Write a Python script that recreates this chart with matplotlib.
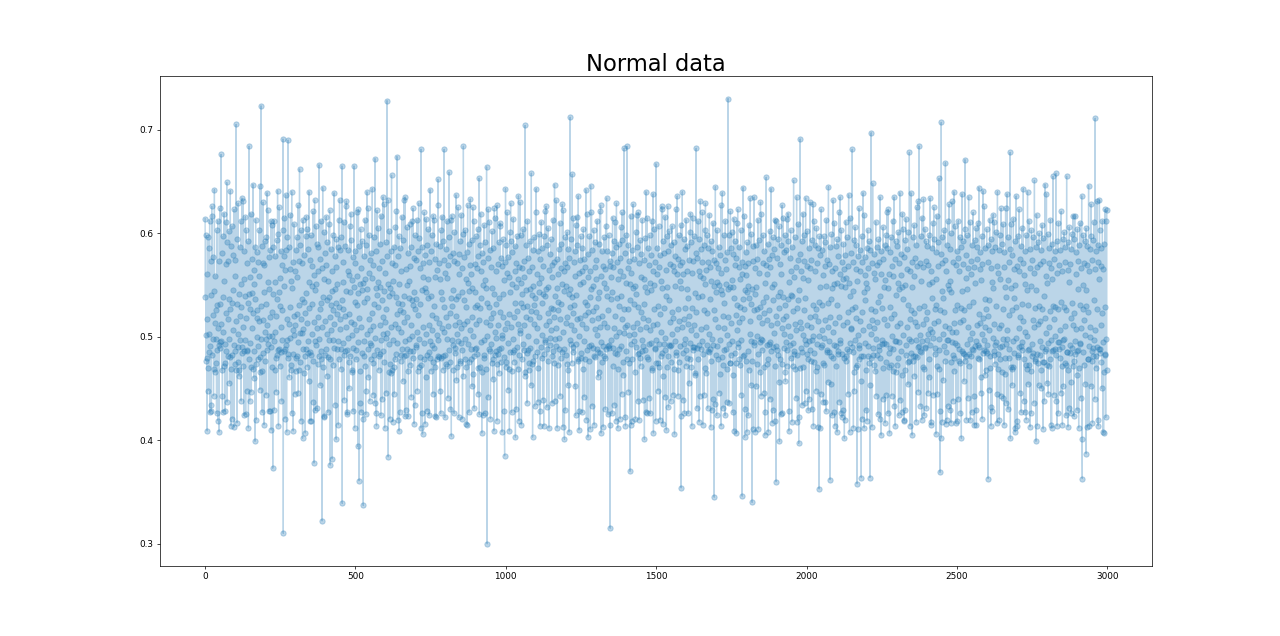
import numpy as np
import matplotlib
matplotlib.use("Agg")
import matplotlib.pyplot as plt

# Series values in thousandths, read/ (index 0..2999)
signal_milli = [
614, 538, 598, 477, 502, 561, 479, 409, 517, 596, 470, 448, 503, 586, 485, 612, 427, 491, 573, 428, 540, 434, 626, 482, 617,
521, 498, 577, 443, 544, 469, 642, 513, 466, 559, 498, 475, 526, 426, 603, 487, 531, 612, 419, 508, 492, 408, 573, 495, 624,
532, 489, 496, 676, 512, 468, 581, 443, 427, 597, 505, 538, 472, 619, 554, 493, 428, 475, 570, 611, 486, 523, 649, 437, 591,
517, 573, 481, 536, 602, 498, 455, 480, 527, 641, 469, 414, 588, 482, 533, 607, 421, 545, 506, 579, 492, 623, 413, 474, 559,
486, 574, 515, 705, 468, 532, 417, 594, 490, 503, 629, 476, 541, 462, 468, 520, 587, 497, 551, 612, 438, 529, 634, 484, 490,
509, 631, 472, 556, 424, 486, 583, 539, 497, 616, 425, 518, 603, 487, 448, 571, 486, 533, 592, 412, 478, 684, 541, 438, 527,
558, 494, 619, 471, 447, 575, 508, 542, 469, 647, 523, 486, 564, 460, 551, 587, 399, 536, 613, 474, 420, 518, 582, 500, 526,
572, 491, 478, 559, 515, 603, 480, 449, 646, 466, 530, 723, 498, 588, 467, 427, 571, 516, 630, 484, 543, 415, 569, 505, 592,
477, 532, 498, 444, 596, 511, 639, 487, 622, 553, 493, 428, 577, 501, 546, 428, 584, 519, 490, 612, 410, 471, 608, 524, 501,
373, 541, 587, 496, 429, 612, 468, 553, 505, 578, 479, 447, 520, 593, 482, 536, 641, 487, 599, 414, 543, 488, 625, 530, 472,
557, 509, 583, 485, 438, 569, 497, 526, 603, 691, 310, 549, 578, 486, 615, 421, 488, 564, 637, 492, 584, 408, 497, 517, 596,
479, 690, 483, 512, 587, 461, 529, 565, 499, 618, 468, 473, 554, 640, 426, 547, 506, 572, 409, 483, 609, 520, 502, 445, 563,
511, 584, 467, 479, 596, 522, 481, 558, 627, 495, 446, 573, 468, 531, 662, 504, 589, 476, 419, 517, 603, 504, 536, 571, 402,
488, 613, 507, 534, 465, 579, 523, 481, 407, 597, 488, 542, 616, 513, 604, 471, 484, 585, 496, 528, 640, 457, 553, 419, 574,
485, 482, 598, 419, 532, 568, 503, 549, 621, 477, 437, 560, 378, 514, 632, 496, 545, 429, 607, 492, 551, 590, 508, 431, 474,
563, 519, 587, 481, 666, 498, 527, 575, 453, 478, 612, 486, 533, 566, 322, 509, 644, 538, 471, 556, 423, 601, 422, 581, 515,
482, 488, 569, 616, 503, 535, 462, 591, 427, 554, 480, 609, 538, 497, 622, 519, 376, 478, 585, 506, 531, 563, 382, 544, 598,
473, 526, 497, 512, 639, 489, 546, 578, 434, 533, 567, 401, 594, 522, 488, 551, 587, 496, 415, 613, 478, 529, 632, 507, 584,
517, 488, 469, 596, 535, 665, 339, 527, 572, 494, 553, 611, 482, 439, 520, 588, 486, 544, 626, 509, 631, 487, 427, 425, 563,
499, 584, 476, 450, 560, 522, 607, 481, 543, 619, 514, 593, 466, 468, 555, 502, 577, 428, 489, 548, 665, 512, 412, 571, 534,
583, 506, 487, 478, 620, 531, 559, 495, 394, 542, 623, 518, 361, 588, 436, 467, 551, 604, 509, 427, 566, 484, 545, 592, 421,
552, 337, 534, 578, 496, 481, 613, 472, 556, 425, 589, 448, 537, 640, 503, 546, 624, 488, 461, 562, 517, 598, 438, 494, 574,
506, 478, 581, 492, 557, 523, 643, 475, 444, 569, 510, 596, 482, 532, 436, 672, 499, 547, 426, 583, 414, 540, 622, 487, 553,
529, 605, 468, 481, 566, 511, 590, 483, 548, 424, 617, 497, 535, 573, 440, 486, 519, 635, 503, 544, 628, 476, 412, 562, 514,
591, 499, 446, 527, 578, 728, 504, 551, 632, 384, 539, 466, 493, 602, 421, 547, 474, 583, 465, 509, 656, 468, 542, 571, 418,
554, 497, 587, 471, 445, 569, 512, 478, 606, 483, 538, 621, 522, 674, 494, 420, 578, 508, 533, 597, 409, 551, 427, 586, 526,
477, 482, 563, 505, 616, 532, 488, 457, 524, 593, 481, 539, 632, 514, 423, 635, 496, 429, 565, 482, 550, 606, 519, 488, 467,
581, 423, 554, 498, 537, 609, 473, 486, 568, 511, 587, 442, 535, 612, 501, 479, 624, 486, 531, 576, 416, 543, 434, 598, 527,
492, 490, 574, 536, 613, 505, 448, 467, 583, 521, 629, 498, 471, 595, 480, 532, 566, 412, 681, 473, 545, 587, 426, 406, 558,
509, 571, 478, 494, 620, 547, 416, 579, 461, 543, 614, 503, 589, 428, 482, 556, 537, 604, 485, 424, 572, 511, 479, 642, 496,
539, 583, 467, 492, 521, 598, 506, 445, 476, 617, 530, 613, 489, 471, 558, 423, 575, 518, 422, 590, 502, 478, 564, 481, 652,
627, 497, 480, 571, 513, 556, 448, 588, 426, 543, 603, 479, 536, 616, 508, 481, 592, 468, 529, 574, 681, 505, 422, 482, 562,
519, 585, 474, 498, 557, 612, 472, 441, 569, 510, 596, 659, 487, 476, 523, 578, 430, 537, 613, 404, 617, 530, 497, 492, 581,
545, 468, 573, 426, 601, 511, 489, 484, 536, 637, 520, 458, 471, 571, 503, 539, 625, 496, 422, 580, 514, 561, 475, 592, 477,
508, 494, 618, 487, 543, 566, 421, 599, 462, 684, 535, 512, 577, 498, 478, 603, 471, 529, 556, 416, 582, 415, 515, 627, 493,
552, 590, 427, 476, 544, 569, 506, 633, 488, 478, 561, 519, 593, 452, 547, 625, 501, 464, 612, 481, 431, 529, 570, 488, 543,
597, 512, 489, 483, 566, 531, 604, 470, 445, 578, 516, 653, 425, 589, 528, 471, 619, 495, 537, 563, 407, 581, 466, 550, 424,
572, 497, 479, 608, 482, 555, 426, 591, 469, 547, 514, 664, 533, 300, 501, 576, 442, 623, 488, 529, 611, 511, 584, 486, 421,
518, 567, 493, 475, 602, 547, 478, 459, 523, 586, 409, 541, 624, 505, 482, 615, 486, 532, 563, 499, 419, 627, 474, 483, 570,
511, 488, 591, 465, 537, 610, 524, 607, 489, 476, 576, 502, 408, 499, 568, 519, 594, 541, 480, 555, 428, 385, 572, 507, 643,
589, 471, 476, 562, 513, 620, 494, 449, 577, 522, 469, 558, 409, 601, 485, 543, 629, 509, 592, 427, 467, 551, 582, 498, 485,
614, 519, 487, 476, 563, 533, 588, 403, 548, 430, 571, 525, 597, 490, 469, 556, 512, 636, 482, 419, 567, 506, 630, 504, 533,
552, 598, 415, 541, 478, 566, 529, 604, 493, 487, 573, 511, 558, 462, 704, 466, 519, 589, 545, 484, 436, 530, 612, 501, 487,
576, 468, 475, 563, 517, 592, 546, 489, 453, 525, 658, 474, 540, 567, 403, 584, 477, 549, 531, 596, 512, 433, 481, 537, 620,
524, 643, 496, 485, 561, 508, 583, 437, 470, 552, 599, 519, 543, 414, 575, 428, 557, 490, 611, 533, 479, 502, 586, 439, 541,
568, 414, 597, 483, 539, 495, 621, 497, 546, 626, 511, 432, 488, 589, 523, 548, 605, 477, 412, 564, 515, 580, 492, 499, 528,
594, 506, 481, 569, 436, 558, 527, 613, 486, 475, 572, 519, 647, 438, 539, 498, 508, 632, 491, 547, 575, 412, 534, 473, 561,
526, 585, 499, 488, 610, 517, 443, 479, 566, 532, 590, 485, 551, 628, 505, 413, 622, 488, 544, 563, 401, 571, 429, 596, 513,
549, 482, 567, 474, 601, 519, 453, 468, 585, 541, 408, 576, 529, 497, 712, 546, 493, 511, 594, 475, 538, 657, 523, 615, 490,
485, 572, 506, 531, 583, 452, 559, 424, 608, 493, 540, 616, 517, 589, 478, 477, 636, 501, 410, 562, 428, 574, 518, 551, 597,
484, 479, 563, 512, 586, 427, 469, 553, 604, 496, 442, 575, 521, 478, 567, 534, 642, 508, 420, 619, 487, 531, 558, 403, 580,
524, 491, 477, 597, 538, 563, 411, 646, 492, 546, 620, 516, 433, 584, 489, 549, 525, 603, 481, 415, 567, 507, 591, 480, 556,
529, 574, 502, 488, 612, 485, 537, 461, 518, 590, 466, 543, 621, 509, 484, 627, 495, 407, 559, 476, 583, 520, 491, 413, 568,
481, 596, 513, 552, 479, 565, 430, 607, 488, 547, 634, 509, 539, 583, 491, 425, 526, 598, 492, 489, 568, 415, 315, 573, 536,
558, 497, 581, 426, 543, 615, 472, 489, 567, 508, 592, 434, 484, 611, 520, 587, 501, 419, 629, 483, 537, 572, 412, 556, 469,
590, 530, 488, 505, 576, 421, 563, 539, 606, 491, 445, 620, 517, 593, 476, 463, 559, 504, 682, 527, 422, 509, 581, 414, 552,
598, 486, 478, 684, 511, 566, 527, 589, 447, 475, 573, 502, 551, 370, 535, 617, 493, 415, 562, 419, 584, 478, 547, 628, 509,
503, 496, 532, 575, 466, 549, 421, 601, 490, 541, 618, 513, 587, 438, 483, 529, 620, 484, 420, 571, 507, 479, 593, 472, 558,
524, 580, 497, 486, 613, 518, 439, 491, 574, 532, 556, 401, 595, 487, 548, 427, 640, 509, 543, 615, 480, 426, 586, 516, 478,
493, 569, 441, 598, 506, 552, 426, 579, 494, 545, 612, 470, 468, 563, 511, 638, 407, 550, 527, 604, 488, 489, 572, 419, 667,
497, 475, 561, 512, 586, 475, 448, 530, 607, 493, 471, 567, 522, 420, 579, 481, 554, 505, 626, 484, 547, 623, 416, 592, 462,
493, 528, 581, 499, 442, 616, 487, 539, 564, 410, 597, 471, 548, 626, 583, 481, 432, 535, 602, 492, 491, 570, 514, 438, 589,
476, 492, 524, 607, 503, 444, 568, 518, 591, 469, 563, 406, 578, 496, 549, 623, 482, 485, 561, 507, 636, 527, 443, 468, 575,
515, 598, 476, 554, 491, 569, 423, 608, 354, 547, 572, 509, 640, 484, 439, 561, 517, 594, 493, 426, 528, 585, 498, 487, 613,
472, 479, 563, 546, 588, 512, 537, 426, 574, 455, 520, 601, 494, 478, 619, 506, 591, 471, 414, 562, 528, 615, 487, 490, 573,
511, 490, 597, 465, 542, 463, 581, 502, 682, 524, 431, 489, 576, 538, 612, 478, 492, 563, 418, 594, 443, 559, 631, 585, 507,
488, 572, 496, 539, 620, 415, 557, 483, 589, 526, 444, 603, 470, 551, 629, 509, 465, 564, 492, 598, 523, 431, 572, 486, 586,
503, 485, 618, 488, 536, 567, 413, 592, 477, 554, 429, 583, 498, 440, 610, 492, 549, 526, 345, 574, 517, 435, 645, 482, 543,
571, 424, 553, 603, 491, 478, 566, 509, 587, 446, 550, 464, 579, 497, 545, 627, 414, 562, 480, 541, 639, 520, 431, 473, 598,
533, 487, 508, 574, 424, 612, 488, 551, 565, 437, 469, 582, 502, 546, 730, 519, 436, 493, 598, 475, 548, 475, 621, 513, 586,
482, 601, 496, 555, 427, 580, 463, 548, 614, 409, 537, 569, 484, 592, 521, 475, 407, 576, 531, 610, 506, 623, 490, 494, 567,
514, 587, 478, 473, 556, 529, 603, 497, 444, 572, 518, 346, 561, 536, 644, 481, 482, 527, 617, 403, 545, 568, 430, 582, 477,
560, 408, 591, 543, 486, 571, 424, 549, 608, 468, 537, 503, 515, 634, 496, 453, 532, 599, 477, 340, 546, 573, 411, 588, 526,
495, 635, 492, 541, 566, 408, 589, 452, 548, 527, 575, 501, 474, 613, 483, 411, 562, 519, 593, 466, 495, 529, 630, 498, 443,
619, 513, 497, 487, 571, 534, 598, 471, 446, 523, 583, 405, 552, 427, 569, 538, 654, 492, 474, 561, 516, 590, 478, 408, 575,
526, 493, 602, 495, 440, 567, 511, 643, 486, 548, 579, 417, 535, 490, 596, 429, 551, 504, 585, 472, 419, 613, 520, 612, 360,
491, 487, 576, 513, 539, 594, 482, 456, 528, 607, 399, 543, 570, 478, 561, 425, 589, 508, 426, 627, 474, 538, 615, 517, 582,
503, 489, 531, 598, 466, 457, 520, 584, 495, 472, 614, 487, 536, 619, 510, 592, 409, 553, 428, 576, 501, 492, 603, 479, 540,
563, 418, 587, 539, 494, 472, 525, 651, 483, 486, 558, 512, 596, 469, 441, 567, 506, 635, 528, 482, 418, 574, 535, 609, 397,
545, 422, 580, 514, 691, 470, 489, 563, 508, 592, 434, 485, 557, 619, 502, 471, 573, 526, 598, 436, 497, 537, 634, 493, 448,
568, 511, 483, 602, 478, 555, 429, 586, 496, 440, 566, 519, 630, 487, 477, 574, 509, 593, 430, 497, 531, 628, 501, 414, 612,
484, 476, 563, 520, 589, 467, 448, 527, 605, 493, 471, 571, 515, 586, 413, 501, 534, 353, 597, 412, 548, 579, 490, 445, 623,
506, 492, 531, 584, 475, 560, 437, 597, 499, 473, 568, 516, 591, 437, 549, 428, 613, 487, 485, 574, 509, 456, 533, 645, 496,
485, 570, 519, 362, 587, 536, 454, 481, 599, 424, 547, 563, 505, 632, 479, 551, 427, 610, 492, 414, 566, 513, 588, 472, 491,
531, 594, 408, 552, 578, 486, 483, 620, 519, 437, 561, 497, 635, 494, 549, 426, 603, 483, 422, 572, 511, 556, 429, 590, 479,
565, 402, 548, 579, 420, 611, 477, 481, 557, 514, 596, 488, 445, 568, 524, 637, 486, 552, 408, 615, 494, 539, 508, 507, 581,
527, 490, 681, 485, 544, 572, 412, 593, 466, 448, 529, 606, 497, 471, 565, 518, 589, 473, 358, 554, 411, 578, 502, 492, 624,
489, 478, 563, 515, 584, 457, 481, 364, 597, 524, 421, 572, 506, 639, 481, 543, 618, 412, 535, 560, 494, 577, 429, 552, 468,
586, 419, 547, 603, 491, 481, 566, 510, 592, 475, 453, 364, 584, 527, 479, 697, 503, 413, 571, 516, 648, 482, 489, 562, 508,
580, 473, 467, 556, 525, 611, 498, 443, 569, 514, 587, 482, 425, 534, 594, 487, 491, 572, 421, 635, 479, 539, 561, 405, 583,
528, 493, 497, 575, 440, 606, 470, 548, 494, 517, 589, 417, 555, 476, 598, 493, 444, 620, 511, 586, 426, 547, 623, 484, 471,
561, 407, 582, 529, 489, 473, 596, 518, 443, 568, 501, 612, 488, 467, 559, 522, 635, 433, 496, 575, 414, 592, 496, 540, 466,
510, 588, 473, 552, 479, 601, 424, 546, 571, 495, 639, 513, 439, 560, 486, 580, 427, 548, 463, 619, 536, 604, 502, 420, 577,
419, 593, 468, 550, 429, 614, 492, 482, 565, 509, 585, 476, 454, 531, 601, 498, 477, 678, 517, 414, 563, 484, 639, 526, 496,
572, 405, 548, 596, 481, 477, 559, 523, 608, 462, 481, 576, 514, 589, 497, 418, 625, 510, 480, 568, 490, 631, 447, 491, 684,
528, 486, 502, 571, 433, 597, 485, 554, 420, 615, 496, 471, 567, 512, 633, 469, 424, 530, 604, 489, 490, 573, 517, 592, 431,
497, 524, 588, 503, 446, 569, 478, 598, 461, 551, 507, 634, 492, 415, 563, 418, 586, 505, 553, 537, 610, 499, 444, 625, 513,
594, 483, 489, 527, 582, 406, 556, 531, 617, 472, 445, 568, 515, 591, 498, 469, 653, 487, 428, 369, 526, 580, 402, 707, 544,
571, 418, 596, 537, 503, 458, 524, 603, 491, 477, 574, 510, 668, 485, 416, 563, 420, 589, 497, 550, 433, 612, 497, 546, 628,
508, 585, 429, 554, 476, 600, 417, 543, 505, 495, 631, 482, 438, 572, 513, 640, 467, 479, 526, 607, 494, 417, 569, 505, 583,
531, 492, 419, 576, 440, 612, 488, 477, 563, 514, 596, 475, 426, 528, 587, 402, 544, 638, 486, 484, 570, 516, 592, 457, 483,
526, 604, 671, 477, 557, 481, 579, 420, 546, 598, 493, 441, 566, 509, 635, 472, 483, 530, 611, 498, 420, 573, 481, 561, 427,
589, 504, 488, 534, 620, 487, 443, 567, 415, 593, 491, 552, 429, 605, 496, 415, 575, 511, 587, 479, 492, 610, 522, 644, 490,
478, 565, 513, 582, 446, 555, 461, 597, 503, 421, 570, 518, 641, 484, 487, 626, 497, 536, 463, 509, 586, 468, 486, 527, 604,
492, 484, 572, 520, 363, 589, 506, 449, 535, 613, 481, 470, 566, 414, 594, 432, 553, 428, 583, 499, 547, 618, 486, 482, 611,
512, 587, 474, 492, 530, 601, 495, 445, 568, 417, 640, 483, 469, 562, 508, 584, 420, 556, 478, 598, 490, 443, 624, 511, 590,
466, 491, 527, 609, 498, 441, 567, 415, 582, 479, 548, 464, 624, 493, 538, 436, 506, 638, 498, 555, 430, 596, 488, 479, 572,
521, 585, 678, 402, 547, 471, 609, 469, 453, 526, 579, 496, 471, 614, 484, 537, 565, 412, 592, 408, 550, 529, 636, 499, 419,
568, 414, 597, 482, 480, 563, 508, 623, 490, 446, 575, 519, 588, 491, 427, 532, 605, 495, 487, 571, 515, 643, 478, 438, 560,
505, 583, 427, 551, 473, 598, 420, 545, 469, 501, 640, 487, 454, 531, 612, 488, 473, 566, 413, 585, 467, 549, 426, 603, 493,
481, 574, 516, 596, 484, 436, 562, 509, 651, 477, 478, 528, 587, 399, 545, 618, 483, 414, 567, 512, 591, 475, 453, 530, 600,
496, 482, 570, 515, 584, 468, 450, 527, 608, 490, 476, 573, 411, 595, 476, 539, 438, 518, 647, 486, 488, 559, 504, 638, 455,
552, 473, 599, 494, 445, 571, 509, 586, 472, 478, 525, 613, 497, 415, 566, 412, 590, 486, 556, 530, 655, 487, 444, 575, 517,
583, 501, 488, 529, 658, 482, 438, 562, 414, 592, 495, 426, 527, 610, 495, 488, 569, 506, 584, 479, 446, 534, 621, 490, 472,
563, 415, 594, 497, 452, 529, 601, 498, 475, 572, 510, 587, 473, 424, 526, 655, 485, 485, 564, 413, 591, 468, 553, 431, 606,
492, 484, 570, 518, 585, 426, 456, 533, 599, 489, 472, 617, 511, 594, 477, 423, 523, 617, 496, 483, 561, 507, 582, 463, 486,
429, 604, 487, 546, 573, 412, 589, 470, 493, 531, 610, 494, 441, 566, 508, 636, 401, 363, 550, 527, 598, 485, 473, 571, 516,
592, 502, 454, 530, 605, 387, 545, 569, 413, 588, 478, 478, 524, 646, 491, 414, 563, 509, 585, 500, 452, 628, 597, 486, 477,
574, 417, 593, 481, 489, 535, 611, 497, 440, 565, 711, 506, 583, 470, 481, 527, 631, 490, 420, 572, 414, 589, 488, 556, 632,
603, 488, 484, 568, 511, 586, 476, 450, 523, 612, 495, 408, 565, 407, 590, 466, 483, 529, 623, 482, 422, 612, 498, 622, 468,
]

title_text = "Normal data"

values = np.array(signal_milli, dtype=float) / 1000.0
index = np.arange(len(values))

fig = plt.figure(figsize=(20, 9.9375), dpi=64)
ax = fig.add_subplot(111)
ax.plot(index, values, "o-", color="C0", alpha=0.3)
ax.set_title(title_text, fontsize=25.5)
fig.savefig("out.png", dpi=64)
